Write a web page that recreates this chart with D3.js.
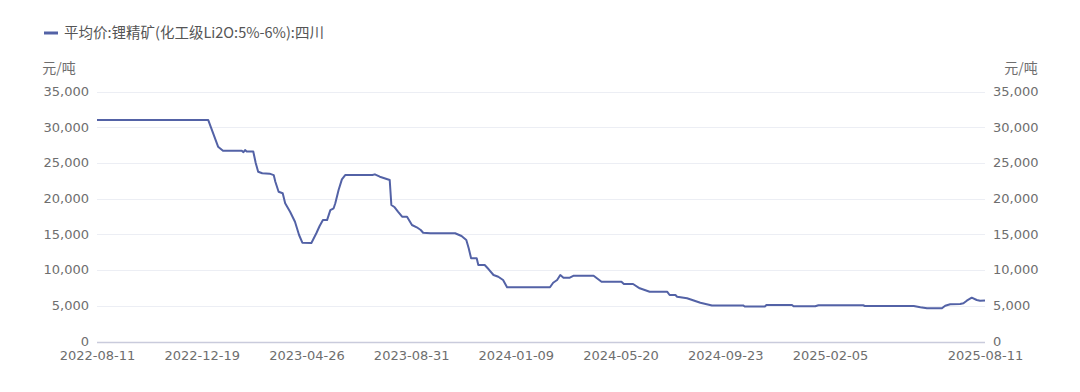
<!DOCTYPE html>
<html>
<head>
<meta charset="utf-8">
<script src="https://cdn.jsdelivr.net/npm/d3@7"></script>
<style>
  html, body { margin: 0; padding: 0; background: #fff; }
  svg { display: block; font-family: "Noto Sans CJK SC", "Noto Sans", sans-serif; }
</style>
</head>
<body>
<svg id="chart" width="1080" height="392"></svg>
<script>
// ---- data ----
const seriesName = "平均价:锂精矿(化工级Li2O:5%-6%):四川";
const unitLabel = "元/吨";
const xTickLabels = ["2022-08-11","2022-12-19","2023-04-26","2023-08-31","2024-01-09","2024-05-20","2024-09-23","2025-02-05","2025-08-11"];
const yTickValues = [0, 5000, 10000, 15000, 20000, 25000, 30000, 35000];
const dates = [
  "2022-08-11","2022-12-27","2023-01-02","2023-01-08","2023-01-14","2023-02-06","2023-02-08","2023-02-10","2023-02-12","2023-02-20",
  "2023-02-23","2023-02-26","2023-03-03","2023-03-12","2023-03-17","2023-03-19","2023-03-23","2023-03-28","2023-03-31","2023-04-06",
  "2023-04-12","2023-04-17","2023-04-21","2023-05-02","2023-05-08","2023-05-12","2023-05-16","2023-05-21","2023-05-25","2023-05-29",
  "2023-05-31","2023-06-04","2023-06-08","2023-06-12","2023-07-15","2023-07-18","2023-07-24","2023-08-05","2023-08-07","2023-08-11",
  "2023-08-15","2023-08-20","2023-08-26","2023-09-01","2023-09-07","2023-09-12","2023-09-15","2023-09-24","2023-10-25","2023-11-02",
  "2023-11-08","2023-11-11","2023-11-14","2023-11-21","2023-11-23","2023-12-01","2023-12-06","2023-12-12","2023-12-18","2023-12-24",
  "2023-12-29","2024-02-21","2024-02-25","2024-03-01","2024-03-05","2024-03-09","2024-03-17","2024-03-22","2024-04-16","2024-04-26",
  "2024-05-21","2024-05-24","2024-06-04","2024-06-12","2024-06-24","2024-07-15","2024-07-18","2024-07-25","2024-07-27","2024-08-08",
  "2024-08-24","2024-09-07","2024-10-16","2024-10-18","2024-11-13","2024-11-15","2024-12-18","2024-12-20","2025-01-17","2025-01-21",
  "2025-03-17","2025-03-19","2025-05-17","2025-05-25","2025-06-02","2025-06-20","2025-06-24","2025-06-30","2025-07-12","2025-07-16",
  "2025-07-20","2025-07-26","2025-08-01","2025-08-05","2025-08-11"
];
const prices = [
  31000,31000,29150,27270,26700,26700,26500,26800,26600,26600,
  25000,23770,23550,23500,23300,22370,20970,20750,19350,18170,
  16770,14910,13830,13800,15150,16170,17000,17000,18400,18650,
  19350,21200,22700,23300,23300,23400,23070,22610,19110,18790,
  18170,17470,17470,16310,15990,15610,15230,15150,15150,14770,
  14210,13050,11650,11650,10710,10710,10110,9310,9070,8610,
  7590,7590,8230,8610,9310,8930,8930,9210,9210,8370,
  8370,8050,8050,7450,6970,6970,6510,6510,6270,6050,
  5430,5050,5050,4900,4900,5100,5100,4930,4930,5070,
  5070,4970,4970,4790,4650,4650,5010,5210,5250,5350,
  5710,6130,5810,5710,5750
];

// ---- layout ----
const W = 1080, H = 392;
const m = { left: 97, right: 95, top: 91.5, bottom: 50.5 };
const plotW = W - m.left - m.right;
const plotH = H - m.top - m.bottom;
const lineColor = "#5362a6";
const textColor = "#6e6e6e";
const numFont = "'DejaVu Sans', sans-serif";

const parse = d3.timeParse("%Y-%m-%d");
const tickDates = xTickLabels.map(parse);
// category-like axis: equally spaced label intervals, last label at the end
const lastUnits = 8.48;
const step = plotW / lastUnits;
const tickPos = tickDates.map((d, i) => i < tickDates.length - 1 ? m.left + i * step : m.left + plotW);

const x = d3.scaleTime().domain(tickDates).range(tickPos);
const y = d3.scaleLinear().domain([0, 35000]).range([m.top + plotH, m.top]);

const svg = d3.select("#chart");

// gridlines
svg.append("g")
  .selectAll("line")
  .data(yTickValues.filter(v => v !== 0))
  .join("line")
  .attr("x1", m.left).attr("x2", m.left + plotW)
  .attr("y1", d => Math.round(y(d)) + 0.5).attr("y2", d => Math.round(y(d)) + 0.5)
  .attr("stroke", "#eceef4").attr("stroke-width", 1);

// x axis line
svg.append("line")
  .attr("x1", m.left).attr("x2", m.left + plotW)
  .attr("y1", Math.round(y(0)) + 0.5).attr("y2", Math.round(y(0)) + 0.5)
  .attr("stroke", "#c9cbdc").attr("stroke-width", 1.5);

// left axis
const fmt = d3.format(",");
const leftAxis = d3.axisLeft(y).tickValues(yTickValues).tickFormat(fmt).tickSize(0).tickPadding(8);
const gl = svg.append("g").attr("transform", `translate(${m.left},0)`).call(leftAxis);
gl.select(".domain").remove();
gl.selectAll("text").attr("fill", textColor).attr("font-size", 13).attr("font-family", numFont).attr("dy", "0.3em");

const rightAxis = d3.axisRight(y).tickValues(yTickValues).tickFormat(fmt).tickSize(0).tickPadding(8);
const gr = svg.append("g").attr("transform", `translate(${m.left + plotW},0)`).call(rightAxis);
gr.select(".domain").remove();
gr.selectAll("text").attr("fill", textColor).attr("font-size", 13).attr("font-family", numFont).attr("dy", "0.3em");

// x axis labels
const bottomAxis = d3.axisBottom(x).tickValues(tickDates).tickFormat((d, i) => xTickLabels[i]).tickSize(0).tickPadding(9);
const gb = svg.append("g").attr("transform", `translate(0,${m.top + plotH})`).call(bottomAxis);
gb.select(".domain").remove();
gb.selectAll("text").attr("fill", textColor).attr("font-size", 13).attr("font-family", numFont);

// unit labels
svg.append("text").attr("x", 59).attr("y", 73).attr("text-anchor", "middle")
  .attr("fill", textColor).attr("font-size", 14).text(unitLabel);
svg.append("text").attr("x", 1021).attr("y", 73).attr("text-anchor", "middle")
  .attr("fill", textColor).attr("font-size", 14).text(unitLabel);

// line
const data = dates.map((d, i) => ({ date: parse(d), value: prices[i] }));
const line = d3.line().x(d => x(d.date)).y(d => y(d.value));
svg.append("path").datum(data)
  .attr("d", line)
  .attr("fill", "none")
  .attr("stroke", lineColor)
  .attr("stroke-width", 2)
  .attr("stroke-linejoin", "round");

// legend
svg.append("line").attr("x1", 44).attr("x2", 58).attr("y1", 33).attr("y2", 33)
  .attr("stroke", lineColor).attr("stroke-width", 3);
svg.append("text").attr("x", 64).attr("y", 38).attr("fill", "#555")
  .attr("font-size", 14.5).text(seriesName);
</script>
</body>
</html>
